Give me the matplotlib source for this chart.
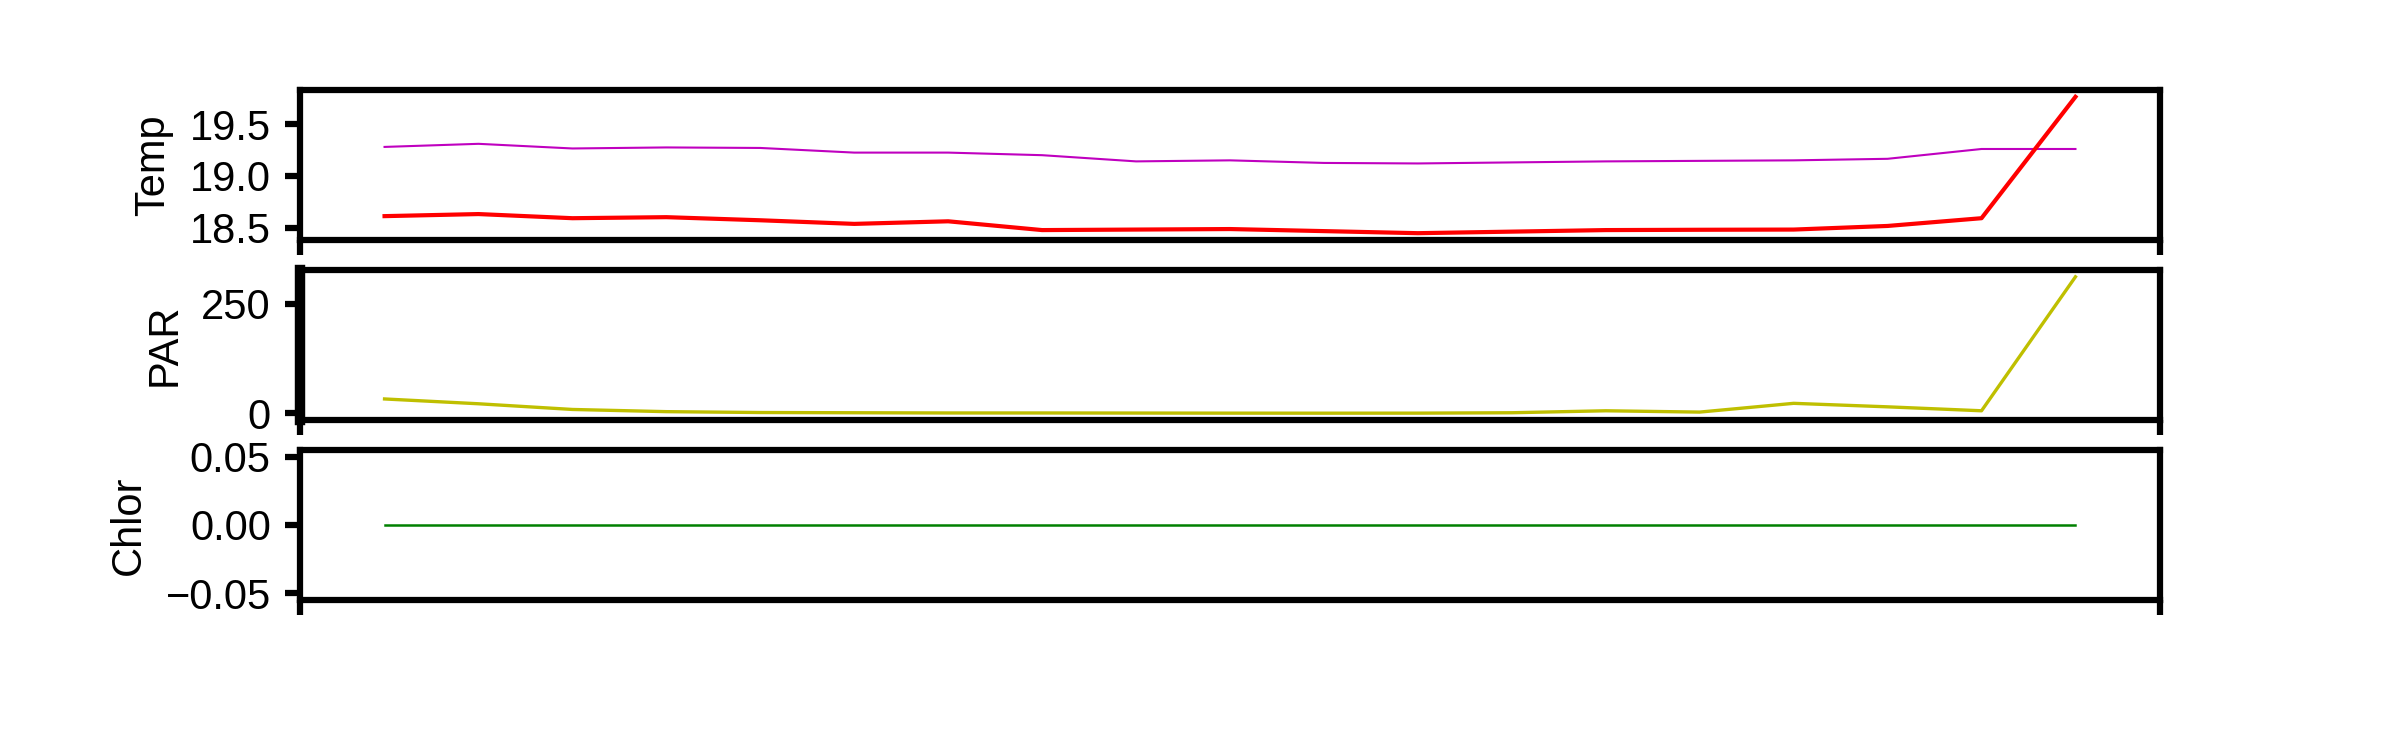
import matplotlib
matplotlib.use("Agg")
import matplotlib.pyplot as plt
import numpy as np

plt.rcParams['font.family'] = ['Liberation Sans', 'DejaVu Sans']
plt.rcParams['font.size'] = 10

# sample index along the profile
samples = np.arange(19)

# temperature from the two sensors
temp_a = [19.28, 19.31, 19.265, 19.275, 19.27, 19.225, 19.225, 19.20, 19.14, 19.15,
          19.125, 19.12, 19.13, 19.14, 19.145, 19.15, 19.165, 19.26, 19.26]
temp_b = [18.61, 18.63, 18.59, 18.60, 18.57, 18.535, 18.56, 18.475, 18.48, 18.485,
          18.465, 18.445, 18.46, 18.475, 18.478, 18.48, 18.515, 18.59, 19.765]

# light
par = [33, 22, 9, 4, 2, 1.5, 1, 1, 0.8, 0.6, 0.5, 0.6, 1.5, 6, 3, 23, 15, 6, 312]

# chlorophyll
chlor = [0.0] * 19

fig, axes = plt.subplots(3, 1, figsize=(8, 2.5), dpi=300)
fig.subplots_adjust(left=0.125, right=0.9, top=0.88, bottom=0.2, hspace=0.2)

ax1, ax2, ax3 = axes
ax1.plot(samples, temp_a, color='m', lw=0.5)
ax1.plot(samples, temp_b, color='r', lw=1.0)
ax1.set_ylabel('Temp')
ax1.set_yticks([18.5, 19.0, 19.5])

ax2.plot(samples, par, color='y', lw=0.8)
ax2.set_ylabel('PAR')
ax2.set_yticks([0, 250])
ax2.spines['left'].set_linewidth(2.5)

ax3.plot(samples, chlor, color='g', lw=0.6)
ax3.set_ylabel('Chlor')
ax3.set_yticks([-0.05, 0.0, 0.05])

for ax in axes:
    for s in ['top', 'bottom', 'right']:
        ax.spines[s].set_linewidth(1.5)
    if ax is not ax2:
        ax.spines['left'].set_linewidth(1.5)
    ax.tick_params(width=1.5, length=3.5)
    # ticks only at the ends of the x range, no labels
    lo, hi = ax.get_xlim()
    ax.set_xticks([lo, hi])
    ax.set_xticklabels(['', ''])
    ax.set_xlim(lo, hi)

fig.savefig('out.png', dpi=300)
